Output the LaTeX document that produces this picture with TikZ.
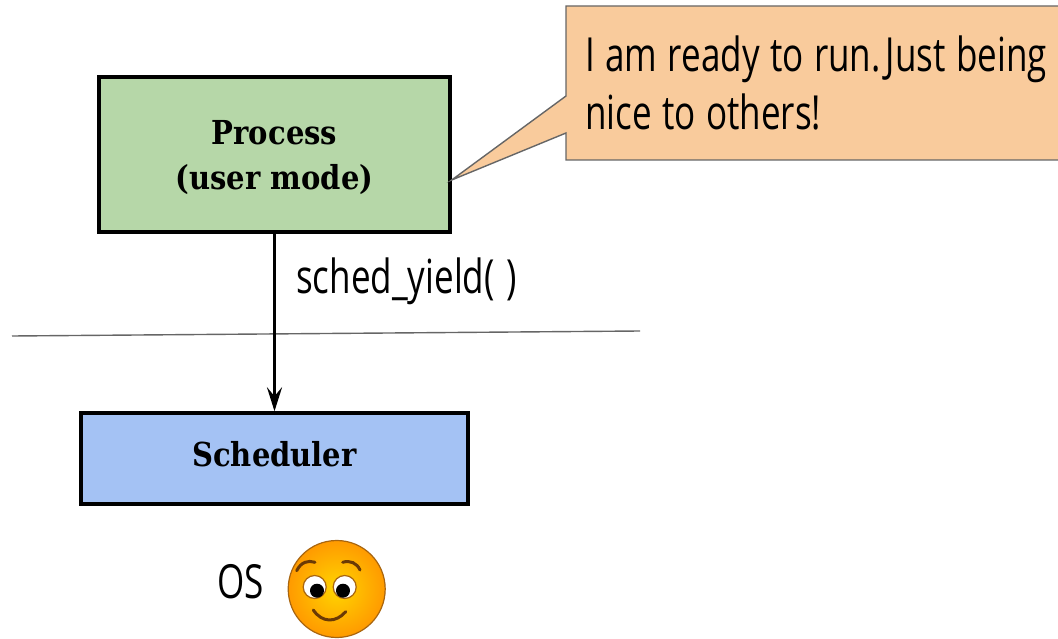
\documentclass[tikz,border=0pt]{standalone}
\usepackage{fontspec}
\setmainfont{Open Sans}[FakeStretch=0.745,WordSpace=1.15]
\newfontfamily\slabfont{DejaVu Serif}[FakeStretch=0.88]
\definecolor{procgreen}{HTML}{B6D7A8}
\definecolor{schedblue}{HTML}{A4C2F4}
\definecolor{noteorange}{HTML}{F9CB9C}
\definecolor{notegray}{HTML}{666666}
\definecolor{faceedge}{HTML}{A8650F}
\definecolor{facedark}{HTML}{6B3A05}
\definecolor{faceinner}{HTML}{FFD500}
\definecolor{faceouter}{HTML}{FF9A00}
\usetikzlibrary{arrows.meta,positioning}
\frenchspacing

\begin{document}
\begin{tikzpicture}[
  x=1pt, y=-1pt,
  box/.style={draw=black, line width=3.4pt, inner sep=0pt},
  boxtext/.style={font=\slabfont\bfseries\fontsize{33}{45}\selectfont, align=center, inner sep=0pt},
  label/.style={font=\fontsize{47}{58}\selectfont, align=left, inner sep=0pt, anchor=west},
  brow/.style={draw=facedark, line width=3pt, line cap=round}
]
  \useasboundingbox (0,0) rectangle (1058,639);

  % Boxes
  \node[box, fill=procgreen, minimum width=351pt, minimum height=155pt] (process) at (274.5,154.5) {};
  \node[boxtext] (processtext) at (274.5,158) {Process\\(user mode)};
  \node[box, fill=schedblue, minimum width=387pt, minimum height=91pt] (scheduler) at (274.5,458.5) {};
  \node[boxtext] (schedtext) at (274.5,454.5) {Scheduler};

  % Speech bubble
  \coordinate (tip) at (process.east |- 0,180);
  \draw[notegray, line width=1.4pt, fill=noteorange] (566,6) -- (1064,6) -- (1064,160) -- (566,160) -- (566,133) -- (tip) -- (566,96) -- cycle;
  \node[label] (note) at (585,83) {I am ready to run.\hspace{5pt}Just being\\nice to others!};

  % Kernel boundary
  \coordinate (sepl) at (12,336);
  \coordinate (sepr) at (640,331);
  \draw[notegray, line width=1.4pt] (sepl) -- (sepr);

  % Arrow
  \draw[-{Stealth[length=24pt,width=15pt,inset=9pt]}, line width=3.4pt] (process) -- (scheduler);
  \node[label] (call) at (296,281) {sched\_yield(\hspace{12pt})};

  % OS and its face
  \node[label] (os) at (217,582) {OS};
  \node[circle, draw=faceedge, line width=1.2pt, minimum size=97pt, inner sep=0pt, inner color=faceinner, outer color=faceouter] (face) at (336.7,589) {};
  \draw[brow] (296.7,570.7) .. controls (301,562) and (308,560) .. (315,562.3);
  \draw[brow] (342.7,562.3) .. controls (350,560) and (357,563) .. (360,570);
  \draw[brow] (313.3,610) .. controls (322,623) and (336,623) .. (345.7,611.7);
  \foreach \ex/\px in {314.7/317, 344.7/343}{
    \fill[white, draw=faceedge, line width=1.2pt] (\ex,587) circle (11.5pt);
    \fill[black] (\px,590.7) circle (7pt);
  }
\end{tikzpicture}
\end{document}
